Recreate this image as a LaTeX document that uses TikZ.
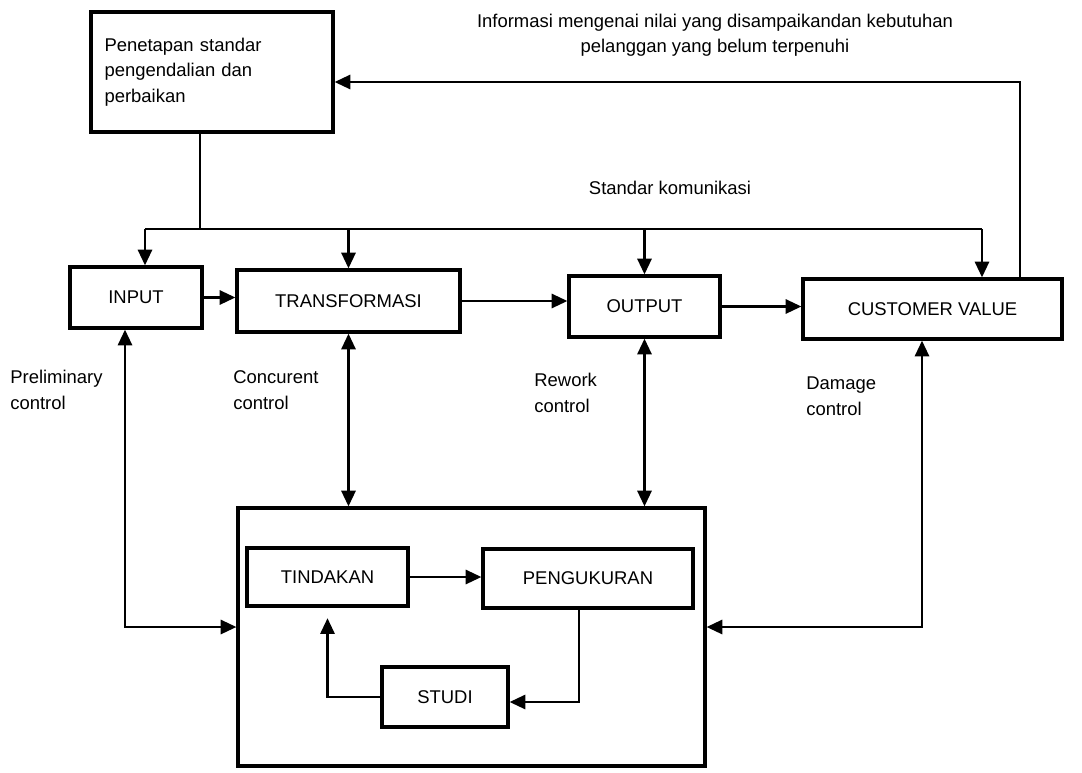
\documentclass[tikz,border=0pt]{standalone}
\usepackage{xcolor}
\usepackage{fontspec}
\usepackage{tikz}
\usetikzlibrary{calc,arrows.meta}
\setmainfont{Liberation Sans}
\definecolor{garis}{HTML}{000000}

\begin{document}
\begin{tikzpicture}[x=0.02cm, y=-0.02cm,
    font=\fontsize{10.5}{14.5}\selectfont,
    kotak/.style={draw=garis, line width=1.8pt, inner sep=2pt},
    pijl/.style={draw=garis, line width=1.6pt, -{Triangle[length=9pt,width=8pt]}},
    duapijl/.style={draw=garis, line width=1.6pt, {Triangle[length=9pt,width=8pt]}-{Triangle[length=9pt,width=8pt]}},
    ket/.style={anchor=west, align=left, inner sep=0pt}]
    \useasboundingbox (0,0) rectangle (1082,772);

    \node[kotak, minimum width=4.84cm, minimum height=2.4cm, text width=4.3cm, align=left] (tetap) at (212,72)
      {Penetapan standar\\ pengendalian dan\\ perbaikan};
    \node[kotak, minimum width=2.64cm, minimum height=1.22cm] (input) at (136,297.5) {INPUT};
    \node[kotak, minimum width=4.46cm, minimum height=1.24cm] (trans) at (348.5,301) {TRANSFORMASI};
    \node[kotak, minimum width=3.02cm, minimum height=1.22cm] (output) at (644.5,306.5) {OUTPUT};
    \node[kotak, minimum width=5.18cm, minimum height=1.2cm] (cv) at (932.5,309) {CUSTOMER VALUE};
    \node[kotak, minimum width=9.34cm, minimum height=5.16cm] (big) at (471.5,637) {};
    \node[kotak, minimum width=3.22cm, minimum height=1.16cm] (tindakan) at (327.5,577) {TINDAKAN};
    \node[kotak, minimum width=4.2cm, minimum height=1.18cm] (ukur) at (588,578.5) {PENGUKURAN};
    \node[kotak, minimum width=2.52cm, minimum height=1.2cm] (studi) at (445,697) {STUDI};

    \node[align=center, inner sep=0pt] (info) at (715,35)
      {Informasi mengenai nilai yang disampaikandan kebutuhan\\ pelanggan yang belum terpenuhi};
    \node[inner sep=0pt] (kom) at (670,188) {Standar komunikasi};
    \node[ket] (pre) at (10,390) {Preliminary\\ control};
    \node[ket] (con) at (233,390) {Concurent\\ control};
    \node[ket] (rew) at (534,393) {Rework\\ control};
    \node[ket] (dam) at (806,396) {Damage\\ control};

    \coordinate (cabang) at (200,229);
    \coordinate (busL) at (145,229);
    \coordinate (busR) at (982,229);
    \coordinate (balik) at (1020,82);
    \coordinate (kiri) at (125,627);
    \coordinate (kanan) at (922,627);

    \draw[draw=garis, line width=1.6pt] (cabang |- tetap.south) -- (cabang);
    \draw[draw=garis, line width=1.6pt] (busL) -- (busR);
    \draw[pijl] (busL) -- (busL |- input.north);
    \draw[pijl] (trans.north |- busL) -- (trans.north);
    \draw[pijl] (output.north |- busL) -- (output.north);
    \draw[pijl] (busR) -- (busR |- cv.north);
    \draw[pijl] (balik |- cv.north) -- (balik) -- (balik -| tetap.east);

    \draw[pijl] (input.east) -- (input.east -| trans.west);
    \draw[pijl] (trans.east) -- (trans.east -| output.west);
    \draw[pijl] (output.east) -- (output.east -| cv.west);

    \draw[duapijl] (kiri |- input.south) -- (kiri) -- (kiri -| big.west);
    \draw[duapijl] (trans.south) -- (trans.south |- big.north);
    \draw[duapijl] (output.south) -- (output.south |- big.north);
    \draw[duapijl] (kanan |- cv.south) -- (kanan) -- (kanan -| big.east);

    \draw[pijl] (tindakan.east) -- (tindakan.east -| ukur.west);
    \draw[pijl] ($(ukur.south)+(-9,0)$) |- ($(studi.east)+(0,5)$);
    \draw[pijl, shorten >=6pt] (studi.west) -| (tindakan.south);
\end{tikzpicture}
\end{document}
